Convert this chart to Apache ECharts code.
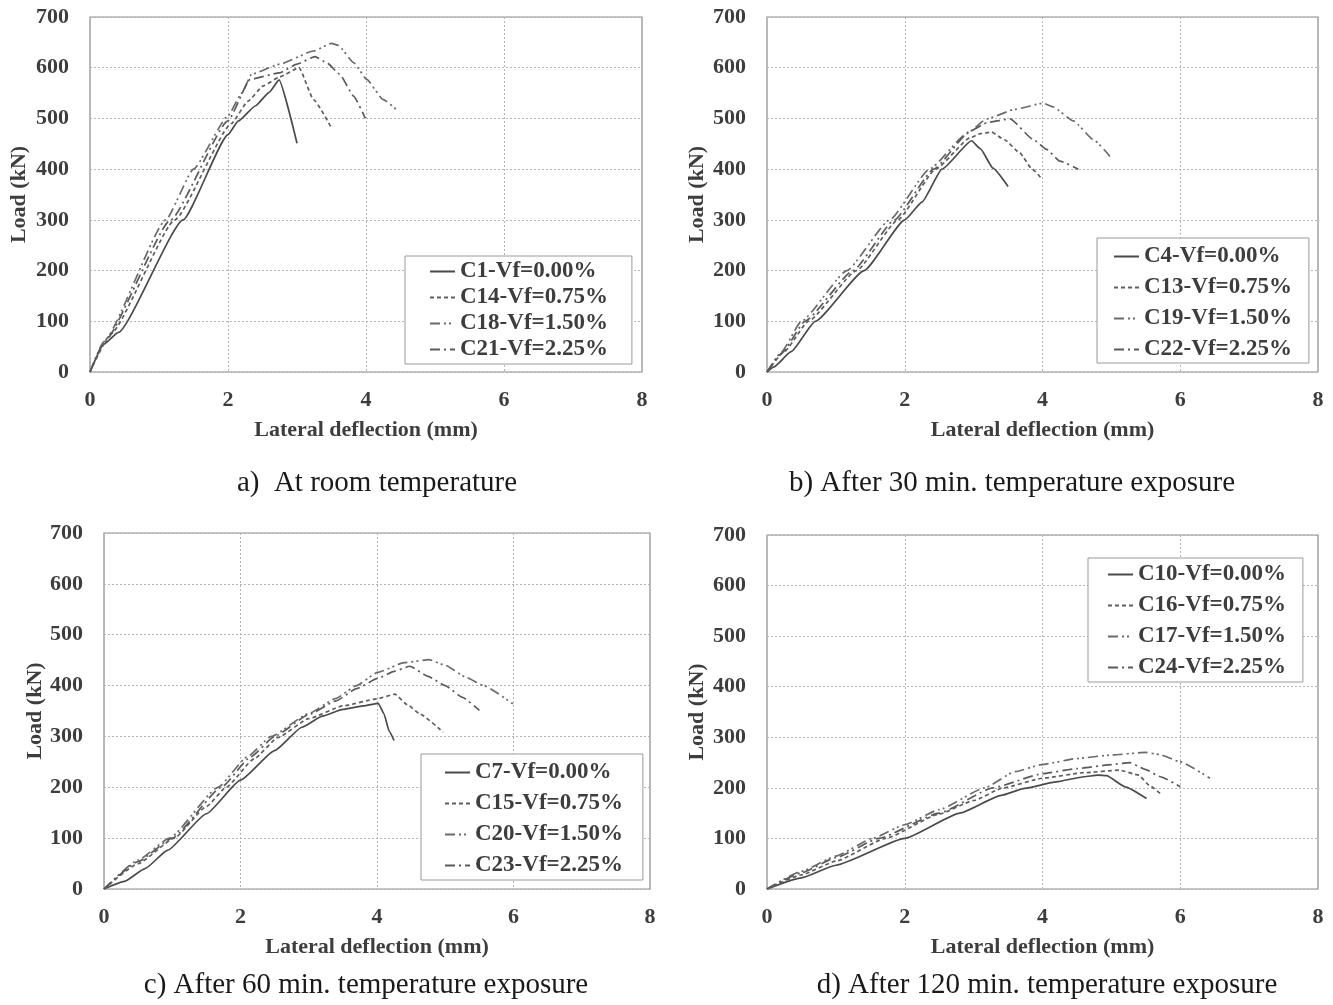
<!DOCTYPE html>
<html><head><meta charset="utf-8">
<script src="https://cdn.jsdelivr.net/npm/echarts@6/dist/echarts.min.js"></script>
<style>html,body{margin:0;padding:0;background:#fff}#c{width:1333px;height:1005px}</style>
</head><body><div id="c"></div><script>
// ---------- data ----------
const xTickValues = [0, 2, 4, 6, 8];
const yTickValues = [0, 100, 200, 300, 400, 500, 600, 700];
const xTitle = 'Lateral deflection (mm)';
const yTitle = 'Load (kN)';
const captions = ['a)  At room temperature', 'b) After 30 min. temperature exposure',
                  'c) After 60 min. temperature exposure', 'd) After 120 min. temperature exposure'];

// a) room temperature
const aNames = ['C1-Vf=0.00%', 'C14-Vf=0.75%', 'C18-Vf=1.50%', 'C21-Vf=2.25%'];
const aC1  = [[0,0],[0.2,55],[0.41,78],[1.35,300],[2.0,468],[2.15,495],[2.4,525],[2.6,552],[2.74,576],[3.0,451]];
const aC14 = [[0,0],[0.3,75],[1.23,300],[2.05,490],[2.29,534],[2.51,564],[2.75,582],[3.03,600],[3.24,537],[3.5,481]];
const aC18 = [[0,0],[0.2,60],[1.1,300],[1.5,400],[2.0,505],[2.2,550],[2.34,587],[2.75,607],[3.24,633],[3.5,648],[3.6,644],[3.82,610],[4.01,577],[4.25,537],[4.47,514]];
const aC21 = [[0,0],[0.2,58],[1.17,300],[2.0,495],[2.32,577],[2.75,590],[3.0,607],[3.26,622],[3.43,610],[3.62,587],[3.82,544],[3.99,500]];

// b) 30 min
const bNames = ['C4-Vf=0.00%', 'C13-Vf=0.75%', 'C19-Vf=1.50%', 'C22-Vf=2.25%'];
const bC4  = [[0,0],[0.1,10],[0.35,40],[0.7,100],[1.41,200],[2.0,300],[2.25,335],[2.54,400],[2.97,456],[3.1,440],[3.28,402],[3.5,366]];
const bC13 = [[0,0],[0.25,40],[0.6,100],[1.3,200],[1.9,300],[2.45,400],[2.95,462],[3.1,470],[3.26,473],[3.45,458],[3.67,432],[3.85,400],[3.99,381]];
const bC19 = [[0,0],[0.2,38],[0.5,100],[1.16,200],[1.78,300],[2.36,400],[2.9,470],[3.19,499],[3.6,518],[4.01,530],[4.15,523],[4.45,495],[4.74,458],[4.98,425]];
const bC22 = [[0,0],[0.22,38],[0.55,100],[1.25,200],[1.85,300],[2.42,400],[2.95,475],[3.2,492],[3.53,499],[3.87,458],[4.06,439],[4.25,416],[4.52,400]];

// c) 60 min
const cNames = ['C7-Vf=0.00%', 'C15-Vf=0.75%', 'C20-Vf=1.50%', 'C23-Vf=2.25%'];
const cC7  = [[0,0],[0.3,15],[0.6,40],[0.93,76],[1.5,148],[2.0,214],[2.5,272],[2.9,318],[3.2,340],[3.5,353],[3.8,360],[4.02,365],[4.1,345],[4.18,310],[4.25,292]];
const cC15 = [[0,0],[0.5,50],[1.03,100],[1.5,162],[1.79,200],[2.2,256],[2.55,298],[3.0,335],[3.5,360],[4.0,374],[4.26,383],[4.45,362],[4.63,344],[4.97,308]];
const cC20 = [[0,0],[0.5,57],[0.96,100],[1.67,200],[2.1,260],[2.45,300],[3.0,345],[3.4,375],[3.7,400],[4.01,426],[4.4,445],[4.76,451],[5.0,440],[5.31,416],[5.56,400],[5.99,364]];
const cC23 = [[0,0],[0.5,54],[1.0,100],[1.72,200],[2.15,260],[2.5,300],[3.0,343],[3.4,370],[3.7,394],[4.01,414],[4.25,428],[4.48,438],[4.75,418],[5.0,400],[5.25,377],[5.5,351]];

// d) 120 min
const dNames = ['C10-Vf=0.00%', 'C16-Vf=0.75%', 'C17-Vf=1.50%', 'C24-Vf=2.25%'];
const dC10 = [[0,0],[0.5,22],[1.0,47],[2.0,100],[2.8,150],[3.4,185],[3.74,199],[4.2,212],[4.6,222],[4.8,225],[4.93,224],[5.2,202],[5.51,179]];
const dC16 = [[0,0],[0.5,28],[1.0,55],[1.72,100],[2.5,148],[3.0,175],[3.43,200],[4.0,219],[4.6,230],[5.12,235],[5.4,225],[5.55,205],[5.73,186]];
const dC17 = [[0,0],[0.5,35],[1.0,65],[1.53,100],[2.0,127],[2.5,157],[3.16,200],[3.6,232],[3.99,246],[4.5,258],[5.0,265],[5.5,270],[5.7,266],[5.99,252],[6.43,219]];
const dC24 = [[0,0],[0.5,32],[1.0,62],[1.62,100],[2.5,150],[3.28,200],[4.0,228],[4.5,238],[5.0,246],[5.27,250],[5.5,236],[5.71,222],[6.0,202]];

const panelNames = [aNames, bNames, cNames, dNames];
const panelData = [[aC1, aC14, aC18, aC21], [bC4, bC13, bC19, bC22], [cC7, cC15, cC20, cC23], [dC10, dC16, dC17, dC24]];

// ---------- layout / style ----------
const FONT = '"Liberation Serif","Times New Roman",serif';
const TXT = '#3d3d3d';
const grids = [
  {left: 90,  top: 17,  width: 552, height: 355},
  {left: 767, top: 17,  width: 551, height: 355},
  {left: 104, top: 533, width: 546, height: 356},
  {left: 767, top: 535, width: 551, height: 354}
];
const yNameGaps = [60, 59, 57, 59];
const legends = [
  {left: 405, top: 256, gap: 3, pad: [4, 24, 3, 24]},
  {left: 1097, top: 238, gap: 8, pad: [7, 17, 2, 16]},
  {left: 421, top: 754, gap: 8, pad: [7, 20, 3, 23]},
  {left: 1088, top: 558, gap: 8, pad: [5, 17, 3, 19]}
];
const captionPos = [[377, 483], [1012, 483], [366, 985], [1047, 985]];
const lineTypes = ['solid', [4, 3], [10, 4, 2, 3, 2, 4], [10, 4, 2, 4]];
const lineColors = ['#4a4a4a', '#5e5e5e', '#6a6a6a', '#5a5a5a'];

const xAxes = [], yAxes = [], series = [], legendOpts = [], graphics = [];
grids.forEach((g, i) => {
  xAxes.push({
    type: 'value', gridIndex: i, min: 0, max: 8, interval: 2,
    name: xTitle, nameLocation: 'middle', nameGap: 47,
    nameTextStyle: {fontFamily: FONT, fontWeight: 'bold', fontSize: 22, color: TXT},
    axisLine: {show: false}, axisTick: {show: false},
    axisLabel: {margin: 17, fontFamily: FONT, fontWeight: 'bold', fontSize: 22, color: TXT,
      formatter: v => xTickValues.includes(v) ? String(v) : ''},
    splitLine: {show: true, lineStyle: {color: '#b5b5b5', type: [2, 2], width: 1}}
  });
  yAxes.push({
    type: 'value', gridIndex: i, min: 0, max: 700, interval: 100,
    name: yTitle, nameLocation: 'middle', nameGap: yNameGaps[i], nameRotate: 90,
    nameTextStyle: {fontFamily: FONT, fontWeight: 'bold', fontSize: 22, color: TXT},
    axisLine: {show: false}, axisTick: {show: false},
    axisLabel: {margin: 21, fontFamily: FONT, fontWeight: 'bold', fontSize: 22, color: TXT,
      formatter: v => yTickValues.includes(v) ? String(v) : ''},
    splitLine: {show: true, lineStyle: {color: '#b5b5b5', type: [2, 2], width: 1}}
  });
  panelNames[i].forEach((nm, k) => {
    series.push({
      name: nm, type: 'line', xAxisIndex: i, yAxisIndex: i,
      data: panelData[i][k], symbol: 'none', smooth: 0.15, smoothMonotone: 'x',
      lineStyle: {color: lineColors[k], width: 1.7, type: lineTypes[k]},
      itemStyle: {color: lineColors[k]}
    });
  });
  const L = legends[i];
  legendOpts.push({
    data: panelNames[i], orient: 'vertical', left: L.left, top: L.top,
    itemWidth: 25, itemHeight: 14, itemGap: L.gap,
    padding: L.pad, borderColor: '#9a9a9a', borderWidth: 1, backgroundColor: '#fff',
    itemStyle: {opacity: 0},
    textStyle: {fontFamily: FONT, fontWeight: 'bold', fontSize: 23, color: TXT},
    selectedMode: false
  });
  graphics.push({
    type: 'text', x: captionPos[i][0], y: captionPos[i][1],
    style: {text: captions[i], font: '29px ' + FONT, fill: '#1a1a1a', textAlign: 'center', textVerticalAlign: 'middle'}
  });
});

const chart = echarts.init(document.getElementById('c'), null, {renderer: 'canvas'});
chart.setOption({
  animation: false,
  backgroundColor: '#fff',
  grid: grids.map(g => Object.assign({show: true, borderColor: '#8c8c8c', borderWidth: 1.2, backgroundColor: 'transparent'}, g)),
  xAxis: xAxes, yAxis: yAxes, series: series, legend: legendOpts, graphic: graphics
});
</script></body></html>
